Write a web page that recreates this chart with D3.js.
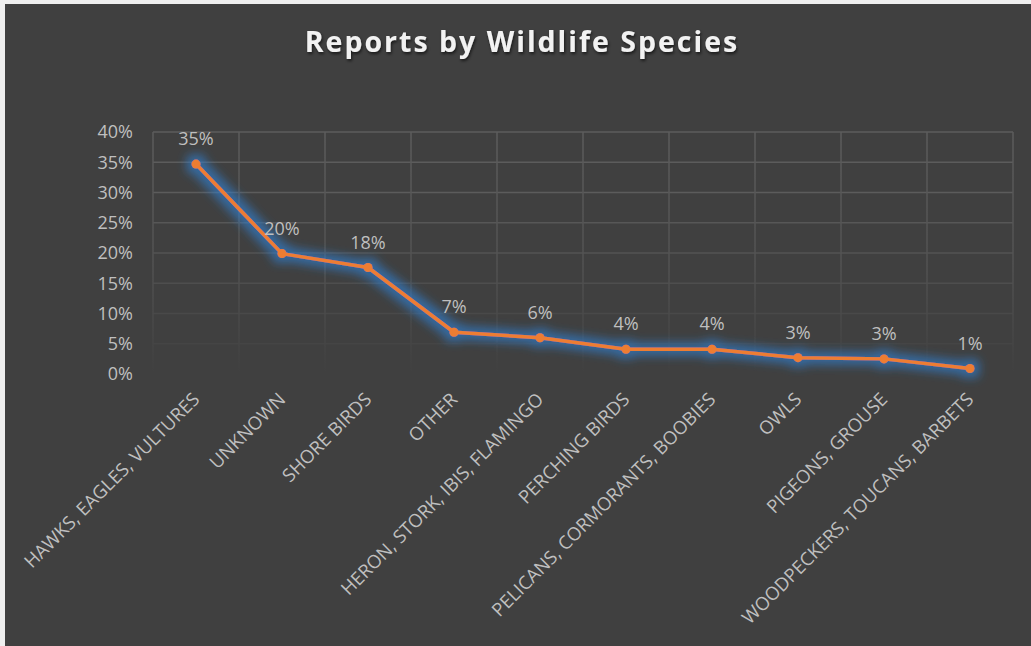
<!DOCTYPE html>
<html>
<head>
<meta charset="utf-8">
<script src="https://cdn.jsdelivr.net/npm/d3@7"></script>
<style>
  body { margin: 0; background: #efefef; overflow: hidden; }
  svg { display: block; }
</style>
</head>
<body>
<svg id="chart"></svg>
<script>
const width = 1031;
const height = 646;

const titleText = 'Reports by Wildlife Species';
const categories = [
  'HAWKS, EAGLES, VULTURES', 'UNKNOWN', 'SHORE BIRDS', 'OTHER',
  'HERON, STORK, IBIS, FLAMINGO', 'PERCHING BIRDS',
  'PELICANS, CORMORANTS, BOOBIES', 'OWLS', 'PIGEONS, GROUSE',
  'WOODPECKERS, TOUCANS, BARBETS'
];
const shares = [0.347, 0.199, 0.176, 0.069, 0.060, 0.041, 0.041, 0.027, 0.025, 0.009];
const yTicks = [0, 0.05, 0.10, 0.15, 0.20, 0.25, 0.30, 0.35, 0.40];

const plot = {left: 153, right: 1013, top: 132, bottom: 374};
const labelFont = '"Open Sans", sans-serif';

function main(){
  const svg = d3.select('svg#chart')
    .attr('width', width)
    .attr('height', height);

  const defs = svg.append('defs');

  // excel style glow round the series
  const glow = defs.append('filter')
    .attr('id', 'glow')
    .attr('x', '-20%').attr('y', '-40%')
    .attr('width', '140%').attr('height', '180%');
  glow.append('feMorphology')
    .attr('in', 'SourceAlpha').attr('operator', 'dilate').attr('radius', 5)
    .attr('result', 'fat');
  glow.append('feGaussianBlur')
    .attr('in', 'fat').attr('stdDeviation', 5).attr('result', 'blur');
  glow.append('feFlood').attr('flood-color', '#2f7fd0').attr('flood-opacity', 0.65);
  glow.append('feComposite').attr('in2', 'blur').attr('operator', 'in').attr('result', 'halo');
  const merge = glow.append('feMerge');
  merge.append('feMergeNode').attr('in', 'halo');
  merge.append('feMergeNode').attr('in', 'SourceGraphic');

  const shadow = defs.append('filter').attr('id', 'titleShadow');
  shadow.append('feDropShadow')
    .attr('dx', 1).attr('dy', 2).attr('stdDeviation', 1.5)
    .attr('flood-color', '#000').attr('flood-opacity', 0.6);

  // gridlines fade towards the bottom
  const fade = defs.append('linearGradient')
    .attr('id', 'gridFade')
    .attr('gradientUnits', 'userSpaceOnUse')
    .attr('x1', 0).attr('y1', plot.top)
    .attr('x2', 0).attr('y2', plot.bottom);
  fade.append('stop').attr('offset', '0%').attr('stop-color', '#5c5c5c');
  fade.append('stop').attr('offset', '55%').attr('stop-color', '#525252');
  fade.append('stop').attr('offset', '100%').attr('stop-color', '#404040');

  svg.append('rect')
    .attr('x', 5).attr('y', 4)
    .attr('width', width - 5).attr('height', height - 4)
    .attr('fill', '#404040');

  const sx = d3.scaleBand()
    .domain(categories)
    .range([plot.left, plot.right]);

  const sy = d3.scaleLinear()
    .domain([0, 0.4])
    .range([plot.bottom, plot.top]);

  const fmt = d3.format('.0%');

  // horizontal gridlines
  svg.append('g')
    .selectAll('line')
    .data(yTicks)
    .enter()
    .append('line')
    .attr('x1', plot.left).attr('x2', plot.right)
    .attr('y1', d => sy(d)).attr('y2', d => sy(d))
    .attr('stroke', d => d3.interpolateRgb('#404040', '#5c5c5c')(Math.min(1, d / 0.3)))
    .attr('stroke-width', 1.5);

  // vertical gridlines
  const edges = categories.map(c => sx(c)).concat([plot.right]);
  svg.append('g')
    .selectAll('line')
    .data(edges)
    .enter()
    .append('line')
    .attr('x1', d => d).attr('x2', d => d)
    .attr('y1', plot.top).attr('y2', plot.bottom)
    .attr('stroke', 'url(#gridFade)')
    .attr('stroke-width', 1.5);

  // y axis labels
  const ay = d3.axisLeft(sy)
    .tickValues(yTicks)
    .tickFormat(fmt)
    .tickSize(0)
    .tickPadding(20);
  const gy = svg.append('g')
    .attr('transform', `translate(${plot.left},0)`)
    .call(ay);
  gy.select('.domain').remove();
  gy.selectAll('text')
    .attr('fill', '#bfbfbf')
    .style('font-family', labelFont)
    .style('font-size', '18px');

  // x axis labels
  const cx = d => sx(d) + sx.bandwidth() / 2;
  svg.append('g')
    .selectAll('text')
    .data(categories)
    .enter()
    .append('text')
    .attr('transform', d => `translate(${cx(d)},${plot.bottom + 22}) rotate(-45)`)
    .attr('text-anchor', 'end')
    .attr('dy', '0.35em')
    .attr('fill', '#bfbfbf')
    .style('font-family', labelFont)
    .style('font-size', '18.5px')
    .text(d => d);

  // series
  const pts = categories.map((c, i) => [cx(c), sy(shares[i])]);
  const series = svg.append('g').attr('filter', 'url(#glow)');
  series.append('path')
    .attr('d', d3.line()(pts))
    .attr('fill', 'none')
    .attr('stroke', '#ed7d31')
    .attr('stroke-width', 3.5)
    .attr('stroke-linejoin', 'round');
  series.selectAll('circle')
    .data(pts)
    .enter()
    .append('circle')
    .attr('cx', d => d[0])
    .attr('cy', d => d[1])
    .attr('r', 4.5)
    .attr('fill', '#ed7d31');

  // data labels
  svg.append('g')
    .selectAll('text')
    .data(shares)
    .enter()
    .append('text')
    .attr('x', (d, i) => pts[i][0])
    .attr('y', (d, i) => pts[i][1] - 19)
    .attr('text-anchor', 'middle')
    .attr('fill', '#bfbfbf')
    .style('font-family', labelFont)
    .style('font-size', '18px')
    .text(d => fmt(d));

  // title
  svg.append('text')
    .attr('x', 522)
    .attr('y', 52)
    .attr('text-anchor', 'middle')
    .attr('fill', '#f2f2f2')
    .attr('filter', 'url(#titleShadow)')
    .style('font-family', labelFont)
    .style('font-weight', 'bold')
    .style('font-size', '28.5px')
    .style('letter-spacing', '2px')
    .text(titleText);
}

document.addEventListener('DOMContentLoaded', main);
</script>
</body>
</html>
